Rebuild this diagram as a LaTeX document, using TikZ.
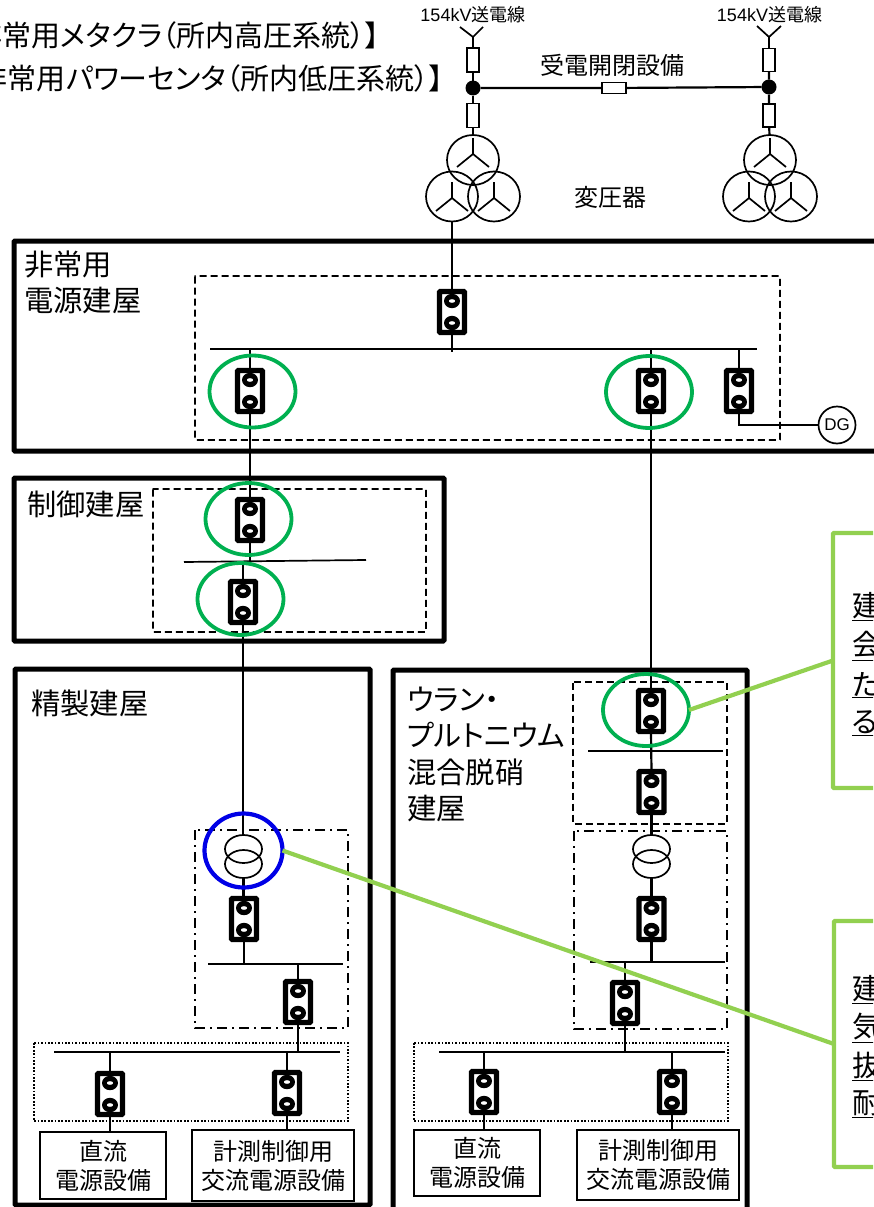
\documentclass[tikz,border=0pt]{standalone}
\usepackage{fontspec}
\usetikzlibrary{shapes.geometric,backgrounds}
\newfontfamily\jp{Noto Sans CJK JP}[RawFeature={+palt}]
\newfontfamily\ar{Liberation Sans}
\definecolor{greenring}{HTML}{00B050}
\definecolor{callgreen}{HTML}{92D050}
\definecolor{bluering}{HTML}{0000E6}
\newcommand{\fs}[2]{\fontsize{#1}{#2}\selectfont}
\newcommand{\brk}[3]{%
  \node[brkbox] (#1) at (#2,#3) {};
  \fill[black,even odd rule] (#2,#3-11) ellipse [x radius=8pt,y radius=7.2pt] (#2,#3-11) ellipse [x radius=3.4pt,y radius=1.9pt];
  \fill[black,even odd rule] (#2,#3+11) ellipse [x radius=8pt,y radius=7.2pt] (#2,#3+11) ellipse [x radius=3.4pt,y radius=1.9pt];
}
\newcommand{\wye}[2]{%
  \draw[yline] (#1,#2) -- (#1,#2+16) -- (#1-16,#2+29) (#1,#2+16) -- (#1+16,#2+29);
}
\tikzset{
  brkbox/.style={draw,line width=5.2pt,rounded corners=0.8pt,fill=white,minimum width=25pt,minimum height=41pt,inner sep=0pt,outer sep=0pt},
  bldg/.style={draw,line width=5pt,rounded corners=1pt},
  zone/.style={draw,line width=1.8pt,rounded corners=0.5pt,dash pattern=on 7pt off 4pt},
  zonedd/.style={draw,line width=1.8pt,dash pattern=on 10pt off 5pt on 2pt off 5pt},
  zonedot/.style={draw,line width=1.8pt,dash pattern=on 1.7pt off 1.7pt},
  busbar/.style={line width=2.6pt},
  wire/.style={line width=2.2pt},
  thinw/.style={line width=1.5pt},
  yline/.style={line width=1.7pt},
  ring/.style={draw=greenring,line width=3.8pt,ellipse,minimum width=86pt,minimum height=72pt,inner sep=0pt,outer sep=0pt},
  bring/.style={draw=bluering,line width=4.2pt,ellipse,minimum width=78pt,minimum height=74pt,inner sep=0pt,outer sep=0pt},
  xfo/.style={draw,line width=1.7pt,ellipse,minimum width=37pt,minimum height=28pt,inner sep=0pt,outer sep=0pt},
  pwr/.style={draw,line width=1.7pt,ellipse,minimum width=52pt,minimum height=50pt,inner sep=0pt,outer sep=0pt},
  fuse/.style={draw,line width=1.5pt,fill=white,inner sep=0pt,outer sep=0pt},
  jdot/.style={circle,fill=black,minimum size=15pt,inner sep=0pt,outer sep=0pt},
  lbl/.style={font=\jp\fs{29.3}{36.5},align=left,inner sep=0pt,anchor=north west},
  txt/.style={font=\jp\fs{24}{30},inner sep=0pt},
  eqp/.style={draw,line width=1.8pt,font=\jp\fs{24}{29},align=center,inner sep=0pt,outer sep=0pt},
  callbox/.style={draw=callgreen,line width=4.4pt,rounded corners=1pt,minimum width=200pt,inner sep=0pt,outer sep=0pt},
  callln/.style={draw=callgreen,line width=4.2pt},
  calltx/.style={font=\jp\fs{29}{36},inner sep=0pt,anchor=west},
}
\begin{document}
\begin{tikzpicture}[x=1pt,y=-1pt]
\useasboundingbox (0,0) rectangle (873,1207);
\clip (0,0) rectangle (873,1207);
% titles
\node[font=\jp\fs{29}{30},inner sep=0pt,anchor=east] (t1) at (380,35) {【非常用メタクラ（所内高圧系統）】};
\node[font=\jp\fs{29}{30},inner sep=0pt,anchor=east] (t2) at (444,78) {【非常用パワーセンタ（所内低圧系統）】};
\node[font=\ar\fs{18}{20},inner sep=0pt] (l1) at (473,15) {154kV{\jp 送電線}};
\node[font=\ar\fs{18}{20},inner sep=0pt] (l2) at (769.5,15) {154kV{\jp 送電線}};
\node[txt] (sw) at (612,65) {受電開閉設備};
\node[txt] (tr) at (610,197) {変圧器};
% receiving equipment
\coordinate (ya) at (473,37);
\coordinate (yb) at (769,37);
\node[fuse,minimum width=12pt,minimum height=24pt] (fa1) at (473,60) {};
\node[fuse,minimum width=12pt,minimum height=24pt] (fa2) at (473,115.5) {};
\node[fuse,minimum width=12pt,minimum height=23pt] (fb1) at (769,60) {};
\node[fuse,minimum width=12pt,minimum height=23pt] (fb2) at (769,115.5) {};
\node[jdot] (da) at (473,88) {};
\node[jdot] (db) at (769,87) {};
\node[fuse,minimum width=24pt,minimum height=11pt] (fc) at (614,88) {};
\node[pwr] (pa) at (473,160) {};
\node[pwr] (pal) at (452,196.5) {};
\node[pwr] (par) at (494,196.5) {};
\node[pwr] (pb) at (770,160) {};
\node[pwr] (pbl) at (749,196.5) {};
\node[pwr] (pbr) at (791,196.5) {};
\wye{473}{138}\wye{452}{182}\wye{494}{182}
\wye{770}{138}\wye{749}{182}\wye{791}{182}
\draw[yline] (460,27) -- (ya) -- (483,27);
\draw[yline] (757,26) -- (yb) -- (781,26);
% building labels
\node[lbl] (n1) at (24,250.5) {非常用\\電源建屋};
\node[lbl] (n2) at (27,491) {制御建屋};
\node[lbl] (n3) at (31,690) {精製建屋};
\node[lbl] (n4) at (407,686.5) {ウラン・\\プルトニウム\\混合脱硝\\建屋};
% breakers
\brk{b1}{452}{312}
\brk{b2}{250}{391}
\brk{b3}{651}{391}
\brk{b4}{739}{391}
\brk{b5}{250}{520}
\brk{b6}{243}{602}
\brk{b7}{651}{711}
\brk{b8}{651.5}{792}
\brk{b9}{651.5}{919}
\brk{b10}{625}{1003}
\brk{b11}{484}{1092}
\brk{b12}{672}{1092}
\brk{b13}{244}{919}
\brk{b14}{298}{1002}
\brk{b15}{110}{1094}
\brk{b16}{287}{1093}
% transformers
\node[xfo] (x1a) at (243.5,849) {};
\node[xfo] (x1b) at (243.5,864) {};
\node[xfo] (x2a) at (651.5,849) {};
\node[xfo] (x2b) at (651.5,864) {};
% DG
\node[circle,draw,line width=1.7pt,minimum size=37pt,inner sep=0pt,outer sep=0pt,font=\ar\fs{17}{18}] (dg) at (837,425) {DG};
% equipment
\node[eqp,minimum width=126pt,minimum height=67pt] (e1) at (103,1165.5) {直流\\電源設備};
\node[eqp,minimum width=162pt,minimum height=71pt] (e2) at (273,1165.5) {計測制御用\\交流電源設備};
\node[eqp,minimum width=126pt,minimum height=66pt] (e3) at (477,1163) {直流\\電源設備};
\node[eqp,minimum width=162pt,minimum height=70pt] (e4) at (658,1165) {計測制御用\\交流電源設備};
% buses
\coordinate (m1) at (210,349); \coordinate (m2) at (757,349);
\coordinate (c1) at (184,562); \coordinate (c2) at (366,560);
\coordinate (u1) at (588,751); \coordinate (u2) at (723,751);
\coordinate (v1) at (590,962); \coordinate (v2) at (725,962);
\coordinate (w1) at (208,964); \coordinate (w2) at (343,964);
\coordinate (p1) at (54,1052); \coordinate (p2) at (340,1052);
\coordinate (q1) at (439,1052); \coordinate (q2) at (725,1052);
% frames and connectors, behind the symbols
\begin{scope}[on background layer]
\draw[bldg] (14,241) rectangle (900,451);
\draw[bldg] (14,478) rectangle (444,641);
\draw[bldg] (15,669) rectangle (370,1205);
\draw[bldg] (393,670) rectangle (747,1225);
\draw[zone] (195,276) rectangle (780,440);
\draw[zone] (153,489) rectangle (426,632);
\draw[zone] (573,682) rectangle (727,824);
\draw[zonedd] (574,831) rectangle (727,1029);
\draw[zonedd] (195,830) rectangle (348,1028);
\draw[zonedot] (34,1043) rectangle (348,1121);
\draw[zonedot] (414,1043) rectangle (728,1121);
\draw[busbar] (m1) -- (m2);
\draw[line width=1.7pt] (c1) -- (c2);
\draw[busbar] (u1) -- (u2);
\draw[busbar] (v1) -- (v2);
\draw[busbar] (w1) -- (w2);
\draw[busbar] (p1) -- (p2);
\draw[busbar] (q1) -- (q2);
% receiving
\draw[wire] (ya) -- (fa1);
\draw[wire] (yb) -- (fb1);
\draw[wire] (fa1) -- (da) -- (fa2) -- (pa);
\draw[wire] (fb1) -- (db) -- (fb2) -- (pb);
\draw[wire] (da) -- (fc) -- (db);
\draw[thinw] (pal.south) -- (452,352);
% emergency building
\draw[wire] (m1 -| b2.north) -- (b2.north);
\draw[wire] (m1 -| b3.north) -- (b3.north);
\draw[wire] (m1 -| b4.north) -- (b4.north);
\draw[wire] (b4.south) |- (dg.west);
\draw[wire] (b2.south) -- (b5.north);
\draw[wire] (b3.south) -- (b7.north);
\draw[wire] (b5.south) -- (250,561);
\draw[wire] (243,561) -- (b6.north);
\draw[thinw] (b6.south) -- (x1a.north -| b6.south);
\draw[wire] (x1b.south) -- (x1b.south |- b13.north);
\draw[wire] (b13.south) -- (b13.south |- w1);
\draw[wire] (w1 -| b14.north) -- (b14.north);
\draw[wire] (b14.south) -- (b14.south |- p1);
\draw[wire] (p1 -| b15.north) -- (b15.north);
\draw[wire] (p1 -| b16.north) -- (b16.north);
\draw[wire] (b15.south) -- (b15.south |- e1.north);
\draw[wire] (b16.south) -- (b16.south |- e2.north);
% U-Pu building
\draw[wire] (b7.south) -- (b8.north);
\draw[wire] (b8.south) -- (x2a.north);
\draw[wire] (x2b.south) -- (b9.north);
\draw[wire] (b9.south) -- (b9.south |- v1);
\draw[wire] (v1 -| b10.north) -- (b10.north);
\draw[wire] (b10.south) -- (b10.south |- q1);
\draw[wire] (q1 -| b11.north) -- (b11.north);
\draw[wire] (q1 -| b12.north) -- (b12.north);
\draw[wire] (b11.south) -- (b11.south |- e3.north);
\draw[wire] (b12.south) -- (b12.south |- e4.north);
\end{scope}
% rings
\node[ring] (g1) at (252.5,391.5) {};
\node[ring] (g2) at (649,392) {};
\node[ring] (g3) at (248.5,519) {};
\node[ring] (g4) at (240.5,599) {};
\node[ring] (g5) at (646,710) {};
\node[bring] (bl) at (243.5,850.5) {};
% callouts
\node[callbox,minimum height=255pt] (k1) at (933,660.5) {};
\node[callbox,minimum height=246pt] (k2) at (934,1044) {};
\draw[callln] (g5.east) -- (k1.west);
\draw[callln] (bl.east) -- (k2.west);
\node[calltx] (k11) at (852,607) {\underline{建}};
\node[calltx] (k12) at (852,646) {\underline{会}};
\node[calltx] (k13) at (852,685) {\underline{た}};
\node[calltx] (k14) at (852,723) {\underline{る}};
\node[calltx] (k21) at (852,990) {\underline{建}};
\node[calltx] (k22) at (852,1028) {\underline{気}};
\node[calltx] (k23) at (852,1066) {\underline{抜}};
\node[calltx] (k24) at (852,1104) {\underline{耐}};
\end{tikzpicture}
\end{document}
